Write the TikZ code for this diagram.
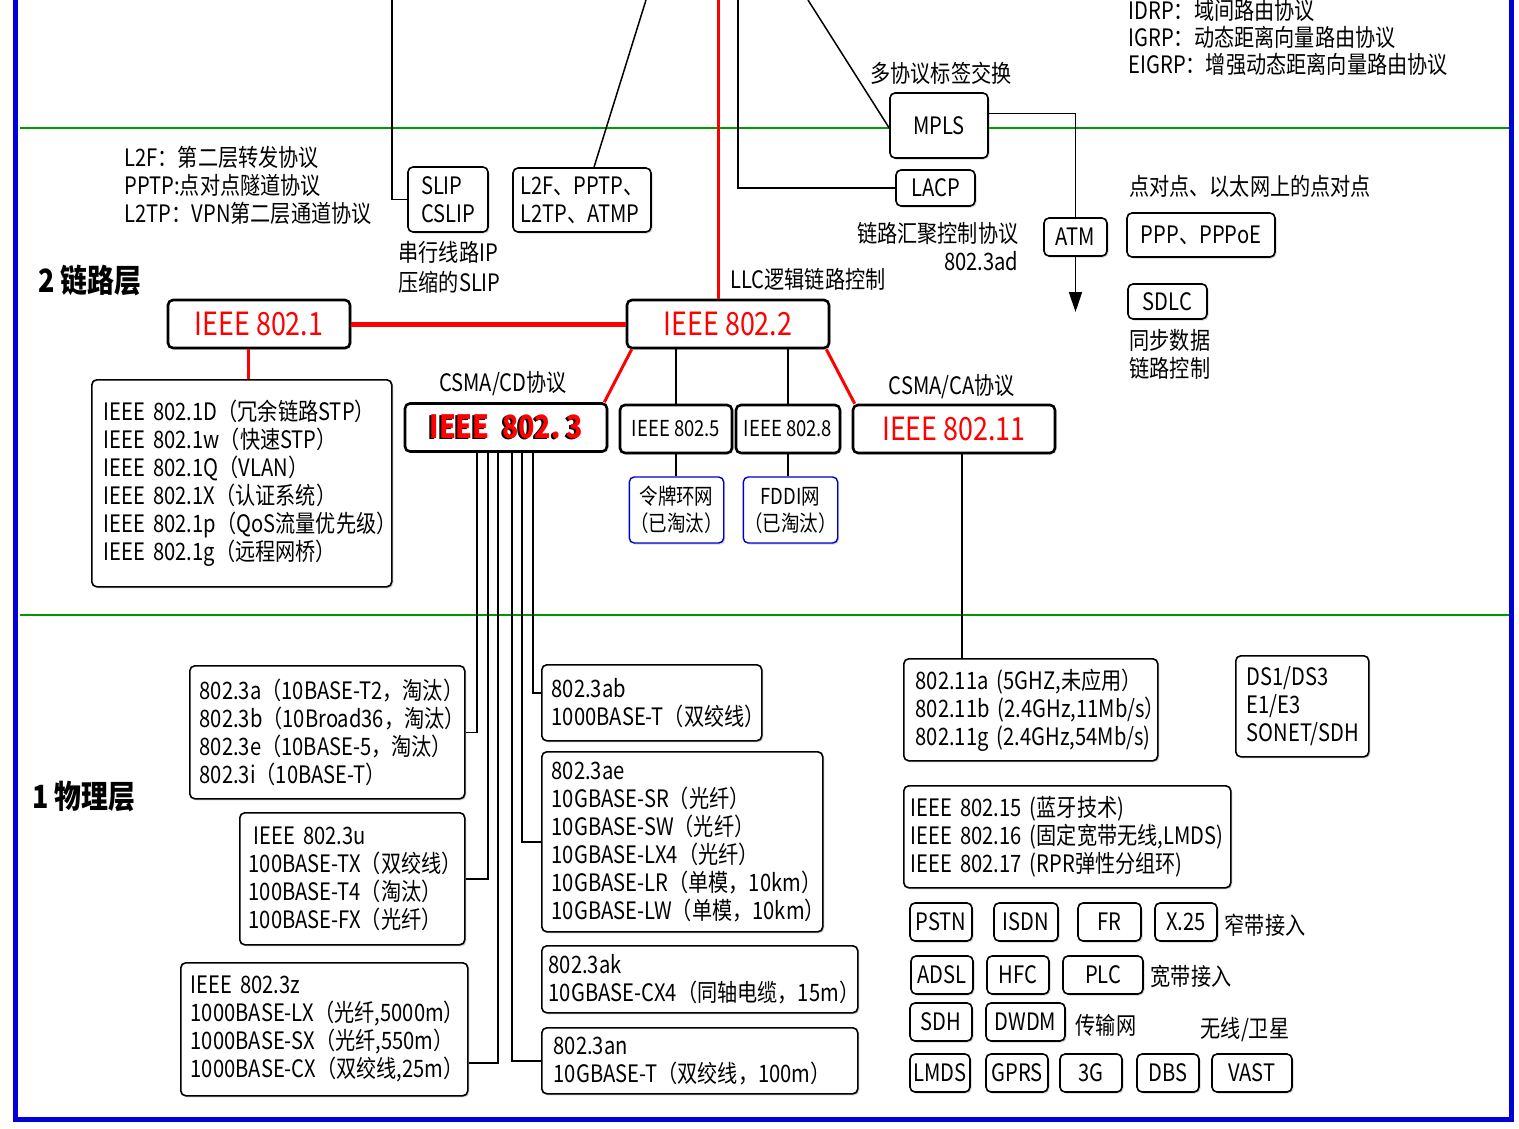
\documentclass[tikz,border=0pt]{standalone}
\usepackage{fontspec}
\setmainfont{Noto Sans CJK SC}[FakeStretch=0.84]
\usetikzlibrary{arrows.meta,shadows}
\exhyphenpenalty=10000
\hyphenpenalty=10000
\newcommand\netfont{\fontsize{24}{28}\selectfont}
\newcommand\stdfont{\fontsize{32}{38}\selectfont}
\newcommand\shadowed[1]{\makebox[0pt][l]{\kern-2pt\raisebox{-1pt}{\color{black}#1}}#1}
\tikzset{
  box/.style={draw, fill=white, rounded corners=5pt, line width=1.6pt,
    drop shadow={shadow xshift=1.5pt, shadow yshift=-1.5pt, opacity=0.35}},
  lbox/.style={box, anchor=north west, align=left, inner xsep=10pt, inner ysep=2pt},
  tag/.style={box, minimum height=38pt, inner sep=2pt},
  midbox/.style={box, line width=2.6pt, minimum height=48pt},
  stdbox/.style={midbox, text=red, font=\stdfont},
  oldbox/.style={box, draw=blue!80!black, line width=1.4pt, inner sep=1pt, align=center, font=\fontsize{22}{27}\selectfont},
  link/.style={line width=1.5pt},
  redlink/.style={red, line width=3pt},
  layer/.style={green!60!black, line width=2.5pt},
  layername/.style={font=\fontsize{32}{36}\selectfont\bfseries},
  frame/.style={blue!85!black, line width=5pt}
}
\begin{document}
\begin{tikzpicture}[x=1pt,y=-1pt,every node/.style={font=\netfont}]
\useasboundingbox (0,0) rectangle (1519,1128);
\draw[frame] (15.5,-5) -- (15.5,1119.5) -- (1511.5,1119.5) -- (1511.5,-5);
\draw[layer] (20,128) -- (1509,128);
\draw[layer] (20,615) -- (1509,615);
% link layer, upper part
\node[anchor=west,align=left] (l2note) at (121,185.5) {L2F：第二层转发协议\\PPTP:点对点隧道协议\\L2TP：VPN第二层通道协议};
\node[box,minimum width=80pt,minimum height=65pt,align=left] (slip) at (448,199.5) {SLIP\\CSLIP};
\node[anchor=west,align=left,font=\fontsize{24}{30}\selectfont] (slipnote) at (395,267) {串行线路IP\\压缩的SLIP};
\node[box,minimum width=138pt,minimum height=64pt,align=left] (tunnel) at (582,200) {L2F、PPTP、\\L2TP、ATMP};
\node[box,minimum width=98pt,minimum height=65pt] (mpls) at (939,125.5) {MPLS};
\node (mplsnote) at (941,73) {多协议标签交换};
\node[box,minimum width=79pt,minimum height=36pt] (lacp) at (935.5,188) {LACP};
\node[anchor=east,align=right] (lacpnote) at (1022,246.5) {链路汇聚控制协议\\802.3ad};
\node[box,minimum width=63pt,minimum height=38pt] (atm) at (1075.5,237) {ATM};
\node (pppnote) at (1250,186) {点对点、以太网上的点对点};
\node[box,minimum width=148pt,minimum height=44pt] (ppp) at (1201,235) {PPP、PPPoE};
\node[box,minimum width=79pt,minimum height=35pt] (sdlc) at (1167.5,301.5) {SDLC};
\node[anchor=west,align=left] (sdlcnote) at (1126,354) {同步数据\\链路控制};
\node[anchor=west,align=left,font=\fontsize{24}{27}\selectfont] (routenote) at (1125,37) {IDRP：域间路由协议\\IGRP：动态距离向量路由协议\\EIGRP：增强动态距离向量路由协议};
\node[layername] (linklayer) at (90,280) {2 链路层};
\node[layername] (physlayer) at (84,797) {1 物理层};
% IEEE 802 family
\node[stdbox,minimum width=182pt] (e1) at (259,324) {IEEE 802.1};
\node[stdbox,minimum width=202pt] (e2) at (728,324) {IEEE 802.2};
\node (llcnote) at (808,279) {LLC逻辑链路控制};
\node[lbox,text width=276pt,minimum height=207pt,inner xsep=12pt] (dot1list) at (91,379) {IEEE~802.1D（冗余链路STP）\\IEEE~802.1w（快速STP）\\IEEE~802.1Q（VLAN）\\IEEE~802.1X（认证系统）\\IEEE~802.1p（QoS流量优先级）\\IEEE~802.1g（远程网桥）};
\node (cdnote) at (503,384) {CSMA/CD协议};
\node[stdbox,minimum width=202pt,font=\stdfont\bfseries] (e3) at (506,427.5) {\shadowed{IEEE\ \ 802.\,3}};
\node[midbox,minimum width=112pt,font=\fontsize{22}{26}\selectfont] (e5) at (676,429) {IEEE 802.5};
\node[midbox,minimum width=104pt,font=\fontsize{22}{26}\selectfont] (e8) at (788,429) {IEEE 802.8};
\node (canote) at (952,387) {CSMA/CA协议};
\node[stdbox,minimum width=202pt] (e11) at (954,429) {IEEE 802.11};
\node[oldbox,minimum width=93pt,minimum height=66pt] (ring) at (676.5,510) {令牌环网\\（已淘汰）};
\node[oldbox,minimum width=91pt,minimum height=66pt] (fddi) at (790.5,510) {FDDI网\\（已淘汰）};
% physical layer
\node[lbox,text width=255pt,minimum height=133pt] (std3a) at (189,665) {802.3a（10BASE-T2，淘汰）\\802.3b（10Broad36，淘汰）\\802.3e（10BASE-5，淘汰）\\802.3i（10BASE-T）};
\node[lbox,text width=207pt,minimum height=132pt,inner xsep=9pt] (std3u) at (239,812) {\hspace*{5pt}IEEE~802.3u\\100BASE-TX（双绞线）\\100BASE-T4（淘汰）\\100BASE-FX（光纤）};
\node[lbox,text width=267pt,minimum height=133pt] (std3z) at (180,962) {IEEE~802.3z\\1000BASE-LX（光纤,5000m）\\1000BASE-SX（光纤,550m）\\1000BASE-CX（双绞线,25m）};
\node[lbox,text width=200pt,minimum height=76pt] (std3ab) at (541,664) {802.3ab\\1000BASE-T（双绞线）};
\node[lbox,text width=261pt,minimum height=180pt] (std3ae) at (541,751) {802.3ae\\10GBASE-SR（光纤）\\10GBASE-SW（光纤）\\10GBASE-LX4（光纤）\\10GBASE-LR（单模，10km）\\10GBASE-LW（单模，10km）};
\node[lbox,text width=302pt,minimum height=67pt,inner xsep=7pt] (std3ak) at (541,945) {802.3ak\\10GBASE-CX4（同轴电缆，15m）};
\node[lbox,text width=292pt,minimum height=66pt,inner xsep=12pt] (std3an) at (541,1027) {802.3an\\10GBASE-T（双绞线，100m）};
\node[lbox,text width=230pt,minimum height=102pt,inner xsep=12pt] (wlan) at (903,658) {802.11a~(5GHZ,未应用）\\802.11b~(2.4GHz,11Mb/s）\\802.11g~(2.4GHz,54Mb/s)};
\node[lbox,text width=111pt,minimum height=101pt,inner xsep=11pt] (tdm) at (1235,655) {DS1/DS3\\E1/E3\\SONET/SDH};
\node[lbox,text width=313pt,minimum height=102pt,inner xsep=7pt] (wpan) at (903,785) {IEEE~802.15~(蓝牙技术)\\IEEE~802.16~(固定宽带无线,LMDS)\\IEEE~802.17~(RPR弹性分组环)};
% access networks
\foreach \name/\lbl/\cx/\w in {pstn/PSTN/941/62,isdn/ISDN/1026/64,fr/FR/1109.5/63,xtf/X.25/1186/62}
  \node[tag,minimum width=\w pt] (\name) at (\cx,922) {\lbl};
\foreach \name/\lbl/\cx/\w in {adsl/ADSL/942/62,hfc/HFC/1018/62,plc/PLC/1103/80}
  \node[tag,minimum width=\w pt] (\name) at (\cx,975) {\lbl};
\foreach \name/\lbl/\cx/\w in {sdh/SDH/941/62,dwdm/DWDM/1025.5/79}
  \node[tag,minimum width=\w pt] (\name) at (\cx,1022) {\lbl};
\foreach \name/\lbl/\cx/\w in {lmds/LMDS/940/60,gprs/GPRS/1017/62,tg/3G/1091/62,dbs/DBS/1168/62,vast/VAST/1252/80}
  \node[tag,minimum width=\w pt] (\name) at (\cx,1073) {\lbl};
\node (narrownote) at (1265,925) {窄带接入};
\node (broadnote) at (1191,976) {宽带接入};
\node (transnote) at (1106,1025) {传输网};
\node (satnote) at (1245,1030) {无线/卫星};
% connectors
\coordinate (sliptop) at (392,0);
\coordinate (tunneltop) at (646,0);
\coordinate (llctop) at (718,0);
\coordinate (lacptop) at (738,0);
\coordinate (mplstop) at (808,0);
\coordinate (atmend) at (1075.5,312);
\draw[link] (sliptop) |- (slip.west);
\draw[link] (tunneltop) -- ([xshift=12pt]tunnel.north);
\draw[link] (lacptop) |- (lacp.west);
\draw[link] (mplstop) -- ([yshift=-2.5pt]mpls.west);
\draw[link] ([yshift=12pt]mpls.east) -| (atm.north);
\draw[link,-{Triangle[length=20pt,width=13pt]}] (atm.south) -- (atmend);
\draw[redlink] (llctop) -- (llctop |- e2.north);
\draw[redlink,line width=5pt] (e1.east) -- (e2.west);
\draw[redlink] ([xshift=-11pt]e1.south) -- ([xshift=-11pt]e1.south |- dot1list.north);
\draw[redlink] ([xshift=6pt]e2.south west) -- ([xshift=-4pt]e3.north east);
\draw[redlink] ([xshift=-4pt]e2.south east) -- ([xshift=3pt]e11.north west);
\draw[link] (e2.south -| e5.north) -- (e5.north);
\draw[link] (e2.south -| e8.north) -- (e8.north);
\draw[link] (e5.south) -- (e5.south |- ring.north);
\draw[link] (e8.south) -- (e8.south |- fddi.north);
\draw[link] ([xshift=8pt]e11.south) -- ([xshift=8pt]e11.south |- wlan.north);
\foreach \dx/\target in {-29/std3a.east,-18/std3u.east,6/std3an.west,16/std3ae.west}
  \draw[link] ([xshift=\dx pt]e3.south) |- (\target);
\draw[link] ([xshift=-8pt]e3.south) |- ([yshift=-33.5pt]std3z.east);
\draw[link] ([xshift=27pt]e3.south) |- ([yshift=10pt]std3ab.west);
\end{tikzpicture}
\end{document}
